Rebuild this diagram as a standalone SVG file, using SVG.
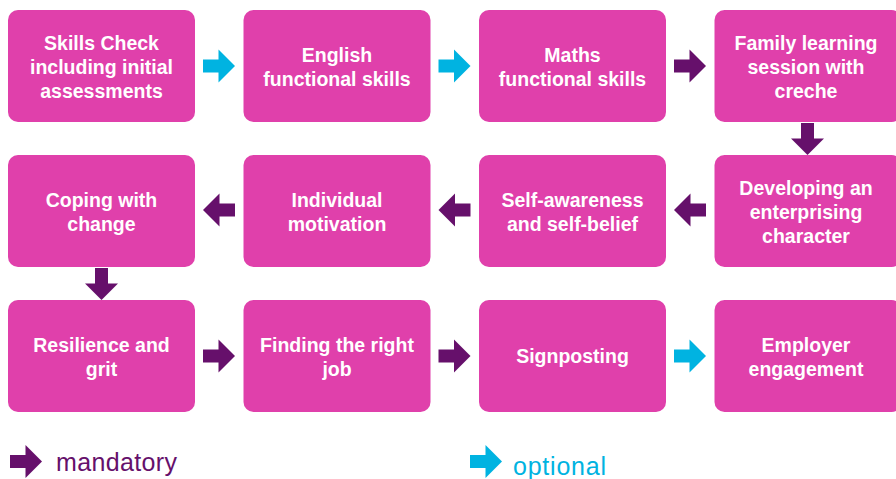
<svg xmlns="http://www.w3.org/2000/svg" xmlns:xlink="http://www.w3.org/1999/xlink" width="896" height="479" viewBox="0 0 896 479">
<style>
.box{fill:#E040AB;}
.lbl{font-family:"Liberation Sans",Arial,sans-serif;font-weight:bold;font-size:19.5px;fill:#FFFFFF;text-anchor:middle;}
.man{fill:#66106B;}
.opt{fill:#00B3E1;}
.leg{font-family:"Liberation Sans",Arial,sans-serif;font-size:25px;}
</style>
<defs>
<path id="arr" d="M-16,-6.5 H-0.5 V-16.5 L16,0 L-0.5,16.5 V6.5 H-16 Z"/>
</defs>
<rect width="896" height="479" fill="#FFFFFF"/>

<g id="n1"><rect class="box" x="8" y="10" width="187" height="112" rx="10"/>
<text class="lbl" x="101.5"><tspan x="101.5" y="49.5">Skills Check</tspan><tspan x="101.5" y="73.5">including initial</tspan><tspan x="101.5" y="97.5">assessments</tspan></text></g>
<g id="n2"><rect class="box" x="243.5" y="10" width="187" height="112" rx="10"/>
<text class="lbl"><tspan x="337" y="61.5">English</tspan><tspan x="337" y="85.5">functional skills</tspan></text></g>
<g id="n3"><rect class="box" x="479" y="10" width="187" height="112" rx="10"/>
<text class="lbl"><tspan x="572.5" y="61.5">Maths</tspan><tspan x="572.5" y="85.5">functional skills</tspan></text></g>
<g id="n4"><rect class="box" x="714.5" y="10" width="187" height="112" rx="10"/>
<text class="lbl"><tspan x="806" y="49.5">Family learning</tspan><tspan x="806" y="73.5">session with</tspan><tspan x="806" y="97.5">creche</tspan></text></g>

<g id="n5"><rect class="box" x="714.5" y="155" width="187" height="112" rx="10"/>
<text class="lbl"><tspan x="806" y="194.5">Developing an</tspan><tspan x="806" y="218.5">enterprising</tspan><tspan x="806" y="242.5">character</tspan></text></g>
<g id="n6"><rect class="box" x="479" y="155" width="187" height="112" rx="10"/>
<text class="lbl"><tspan x="572.5" y="206.5">Self-awareness</tspan><tspan x="572.5" y="230.5">and self-belief</tspan></text></g>
<g id="n7"><rect class="box" x="243.5" y="155" width="187" height="112" rx="10"/>
<text class="lbl"><tspan x="337" y="206.5">Individual</tspan><tspan x="337" y="230.5">motivation</tspan></text></g>
<g id="n8"><rect class="box" x="8" y="155" width="187" height="112" rx="10"/>
<text class="lbl"><tspan x="101.5" y="206.5">Coping with</tspan><tspan x="101.5" y="230.5">change</tspan></text></g>

<g id="n9"><rect class="box" x="8" y="300" width="187" height="112" rx="10"/>
<text class="lbl"><tspan x="101.5" y="351.5">Resilience and</tspan><tspan x="101.5" y="375.5">grit</tspan></text></g>
<g id="n10"><rect class="box" x="243.5" y="300" width="187" height="112" rx="10"/>
<text class="lbl"><tspan x="337" y="351.5">Finding the right</tspan><tspan x="337" y="375.5">job</tspan></text></g>
<g id="n11"><rect class="box" x="479" y="300" width="187" height="112" rx="10"/>
<text class="lbl"><tspan x="572.5" y="363">Signposting</tspan></text></g>
<g id="n12"><rect class="box" x="714.5" y="300" width="187" height="112" rx="10"/>
<text class="lbl"><tspan x="806" y="351.5">Employer</tspan><tspan x="806" y="375.5">engagement</tspan></text></g>

<g id="connectors">
<use xlink:href="#arr" class="opt" transform="translate(219,66)"/>
<use xlink:href="#arr" class="opt" transform="translate(454.5,66)"/>
<use xlink:href="#arr" class="man" transform="translate(690,66)"/>
<use xlink:href="#arr" class="man" transform="translate(807.5,139) rotate(90)"/>
<use xlink:href="#arr" class="man" transform="translate(690,210) rotate(180)"/>
<use xlink:href="#arr" class="man" transform="translate(454.5,210) rotate(180)"/>
<use xlink:href="#arr" class="man" transform="translate(219,210) rotate(180)"/>
<use xlink:href="#arr" class="man" transform="translate(101.5,284) rotate(90)"/>
<use xlink:href="#arr" class="man" transform="translate(219,356)"/>
<use xlink:href="#arr" class="man" transform="translate(454.5,356)"/>
<use xlink:href="#arr" class="opt" transform="translate(690,356)"/>
</g>

<g id="legend">
<use xlink:href="#arr" class="man" transform="translate(26,461.5)"/>
<text class="leg man" x="56" y="471" textLength="121">mandatory</text>
<use xlink:href="#arr" class="opt" transform="translate(486,461.5)"/>
<text class="leg opt" x="513" y="475" textLength="93">optional</text>
</g>
</svg>
